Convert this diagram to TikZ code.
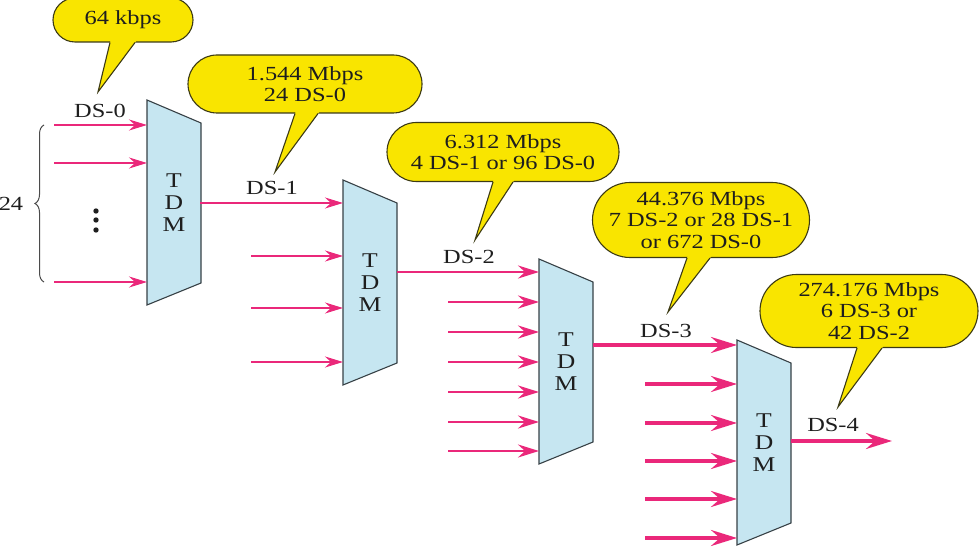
\documentclass[tikz,border=0pt]{standalone}
\usepackage{fontspec}
\setmainfont{Liberation Serif}[FakeStretch=1.22]
\usetikzlibrary{arrows.meta,calc,decorations.pathreplacing,shapes.misc}

\definecolor{bubbleyellow}{RGB}{249,229,0}
\definecolor{bubbleline}{RGB}{60,58,20}
\definecolor{muxblue}{RGB}{198,230,241}
\definecolor{muxline}{RGB}{55,65,70}
\definecolor{linkpink}{RGB}{234,40,122}
\definecolor{inkgray}{RGB}{30,30,30}

\tikzset{
  mux/.style={fill=muxblue, draw=muxline, line width=1.1pt, line join=miter},
  muxtext/.style={align=center, inner sep=0pt, font=\fontsize{21}{22}\selectfont},
  bubble/.style={rounded rectangle, fill=bubbleyellow, draw=bubbleline, line width=1.1pt, align=center, inner sep=0pt},
  feedlink/.style={draw=linkpink, line width=2pt, -{Stealth[length=18pt, width=11pt, inset=6pt]}},
  midlink/.style={draw=linkpink, line width=2.5pt, -{Stealth[length=21pt, width=13pt, inset=7pt]}},
  fatlink/.style={draw=linkpink, line width=3.5pt, -{Stealth[length=26pt, width=16pt, inset=9pt]}},
}

\begin{document}
\begin{tikzpicture}[x=1pt, y=-1pt, font=\fontsize{20}{21.5}\selectfont, text=inkgray]
\useasboundingbox (0,0) rectangle (980,548);

% the four multiplexers
\foreach \n/\l/\t in {1/147/100, 2/343/180, 3/539/259, 4/737/340} {
    \filldraw[mux] (\l,\t) -- (\l+54,\t+23) -- (\l+54,\t+183) -- (\l,\t+205) -- cycle;
    \node[muxtext] (tdm\n) at (\l+27,\t+102.5) {T\\D\\M};
    \coordinate (tdm\n-w) at (\l,\t);
    \coordinate (tdm\n-e) at (\l+54,\t);
}

% inputs
\foreach \y [count=\i] in {125,163,282} {
    \coordinate (s1-\i) at (54,\y);
    \path (s1-\i) edge[feedlink] (tdm1-w |- s1-\i);
}
\foreach \y [count=\i] in {256,308,362} {
    \coordinate (s2-\i) at (251,\y);
    \path (s2-\i) edge[feedlink] (tdm2-w |- s2-\i);
}
\foreach \y [count=\i] in {302,332,362,392,422,451} {
    \coordinate (s3-\i) at (448,\y);
    \path (s3-\i) edge[midlink] (tdm3-w |- s3-\i);
}
\foreach \y [count=\i] in {384,423,461,499,538} {
    \coordinate (s4-\i) at (645,\y);
    \path (s4-\i) edge[fatlink] (tdm4-w |- s4-\i);
}

% outputs
\coordinate (o1) at (200,203);
\coordinate (o2) at (397,272);
\coordinate (o3) at (593,345);
\coordinate (o4) at (791,441);
\coordinate (end4) at (892,441);
\path (o1) edge[feedlink] (tdm2-w |- o1);
\path (o2) edge[midlink] (tdm3-w |- o2);
\path (o3) edge[fatlink] (tdm4-w |- o3);
\path (o4) edge[fatlink] (end4);

% 24 channels
\foreach \y in {211,220,230}
    \fill[inkgray] (96,\y) circle (2.7);
\coordinate (br-top) at (44,125);
\coordinate (br-bot) at (44,282);
\draw[inkgray!80, line width=1pt, decorate, decoration={brace, amplitude=9pt}] (br-bot) -- (br-top);
\node (n24) at (11,204) {24};

% signal names
\begin{scope}[every node/.style={inner sep=0pt}]
    \node (ds0) at (100,111) {DS-0};
    \node (ds1) at (272,188) {DS-1};
    \node (ds2) at (469,257) {DS-2};
    \node (ds3) at (666,331) {DS-3};
    \node (ds4) at (833,425) {DS-4};
\end{scope}

% rate callouts
\node[bubble, minimum width=140pt, minimum height=44pt] (b0) at (123,20) {64 kbps};
\node[bubble, minimum width=234pt, minimum height=58pt] (b1) at (305,84) {1.544 Mbps\\24 DS-0};
\node[bubble, minimum width=232pt, minimum height=59pt] (b2) at (503,152) {6.312 Mbps\\4 DS-1 or 96 DS-0};
\node[bubble, minimum width=217pt, minimum height=75pt] (b3) at (701,220) {44.376 Mbps\\7 DS-2 or 28 DS-1\\or 672 DS-0};
\node[bubble, minimum width=218pt, minimum height=73pt] (b4) at (869,311) {274.176 Mbps\\6 DS-3 or\\42 DS-2};
\foreach \b/\l/\r/\tx/\ty in {b0/-13/12/98/92, b1/-10/13/275/172, b2/-10/10/475/240, b3/-14/9/668/312, b4/-12/13/838/407} {
    \coordinate (\b-tip) at (\tx,\ty);
    \coordinate (\b-l) at ($(\b.south)+(\l,0)$);
    \coordinate (\b-r) at ($(\b.south)+(\r,0)$);
    \fill[bubbleyellow] ($(\b-tip)!1.05!(\b-l)$) -- (\b-tip) -- ($(\b-tip)!1.05!(\b-r)$) -- cycle;
    \draw[bubbleline, line width=1.1pt, line join=miter] (\b-l) -- (\b-tip) -- (\b-r);
}
\end{tikzpicture}
\end{document}
